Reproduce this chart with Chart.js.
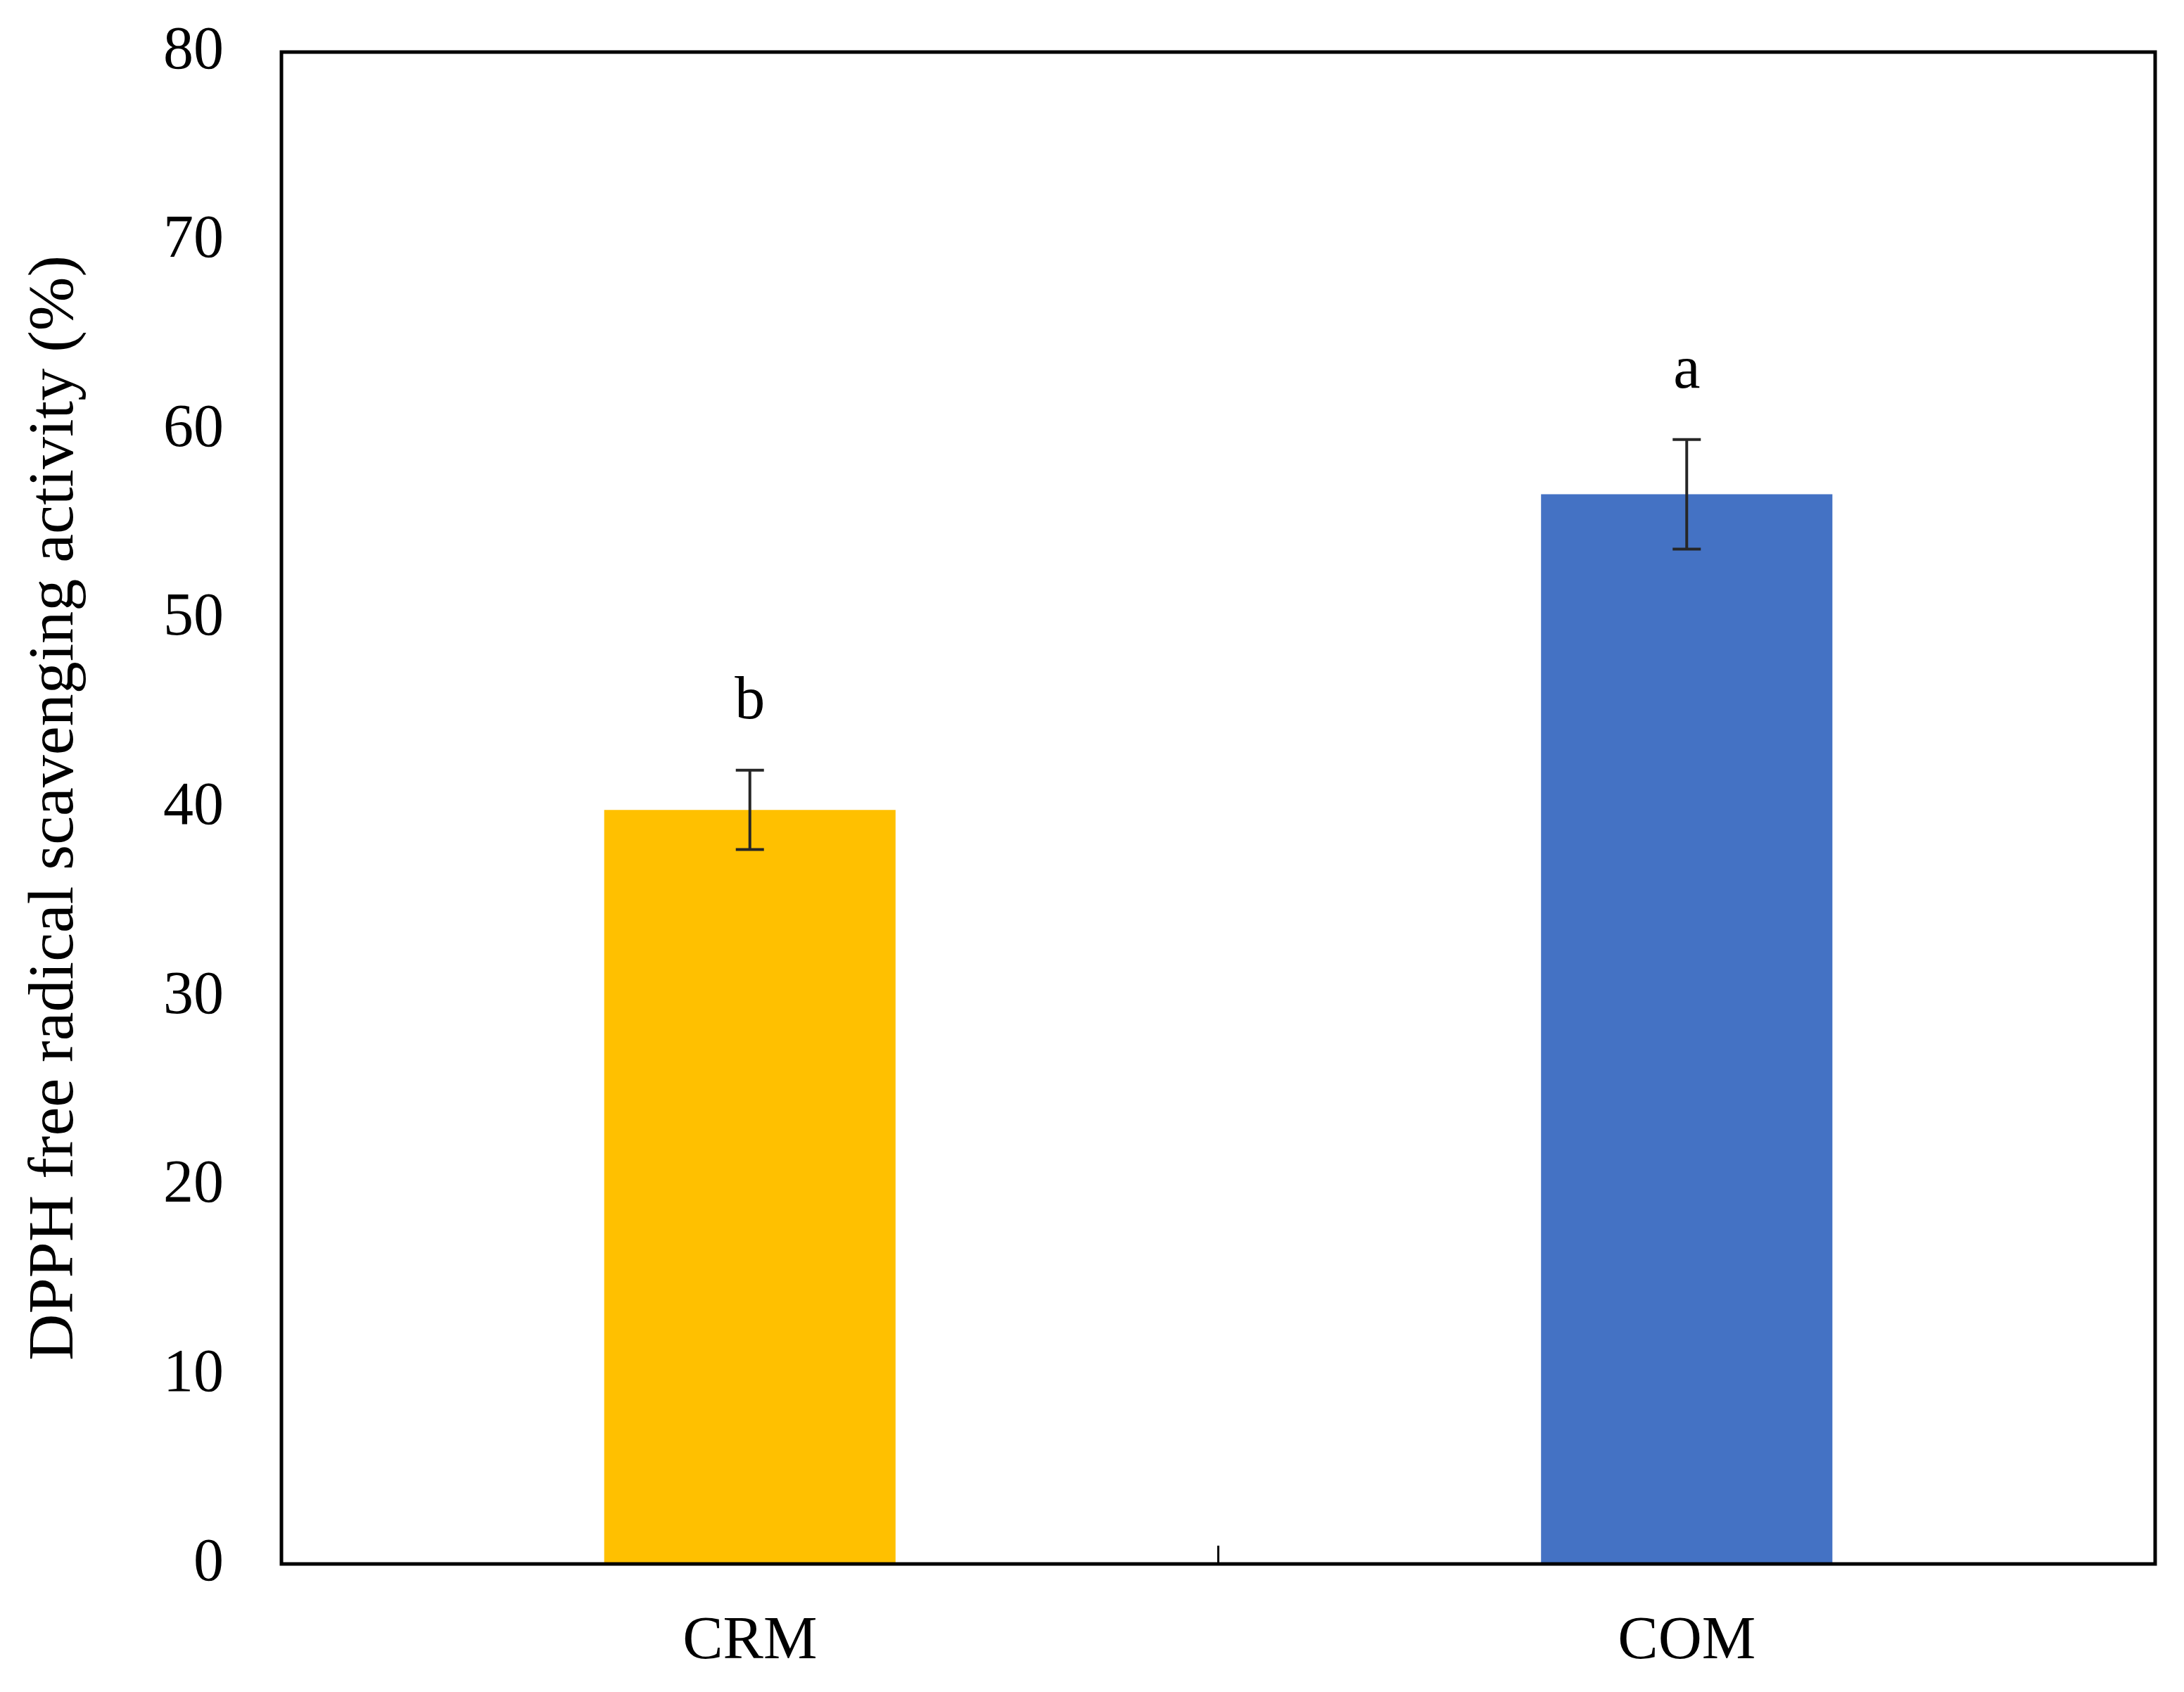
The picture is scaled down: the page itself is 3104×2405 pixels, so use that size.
<!DOCTYPE html>
<html>
<head>
<meta charset="utf-8">
<script src="https://cdn.jsdelivr.net/npm/chart.js@4/dist/chart.umd.min.js"></script>
<style>
  html, body { margin: 0; padding: 0; background: #ffffff; }
  #wrap { width: 3104px; height: 2405px; }
</style>
</head>
<body>
<div id="wrap"><canvas id="c" width="3104" height="2405"></canvas></div>
<script>
const categories = ["CRM", "COM"];
const meanValues = [39.9, 56.6];
const errorValues = [2.1, 2.9];
const sigLetters = ["b", "a"];
const barColors = ["#FFC000", "#4472C4"];
const yTickValues = [0, 10, 20, 30, 40, 50, 60, 70, 80];
const yTitle = "DPPH free radical scavenging activity (%)";

const FONT = "'Liberation Serif', 'Times New Roman', serif";

const decorPlugin = {
  id: 'decor',
  afterDatasetsDraw(chart) {
    const ctx = chart.ctx;
    const x = chart.scales.x, y = chart.scales.y;
    const meta = chart.getDatasetMeta(0);
    ctx.save();
    ctx.strokeStyle = '#262626';
    ctx.lineWidth = 4;
    meta.data.forEach((bar, i) => {
      const cx = x.getPixelForValue(i);
      const top = y.getPixelForValue(meanValues[i] + errorValues[i]);
      const bot = y.getPixelForValue(meanValues[i] - errorValues[i]);
      const cap = 20;
      ctx.beginPath();
      ctx.moveTo(cx, top); ctx.lineTo(cx, bot);
      ctx.moveTo(cx - cap, top); ctx.lineTo(cx + cap, top);
      ctx.moveTo(cx - cap, bot); ctx.lineTo(cx + cap, bot);
      ctx.stroke();
      ctx.fillStyle = '#000000';
      ctx.font = '86px ' + FONT;
      ctx.textAlign = 'center';
      ctx.textBaseline = 'alphabetic';
      ctx.fillText(sigLetters[i], cx, top - 74);
    });
    const a = chart.chartArea;
    ctx.strokeStyle = '#000000';
    ctx.lineWidth = 5;
    ctx.strokeRect(a.left, a.top, a.right - a.left, a.bottom - a.top);
    ctx.lineWidth = 3;
    const mid = (x.getPixelForValue(0) + x.getPixelForValue(1)) / 2;
    ctx.beginPath();
    ctx.moveTo(mid, a.bottom);
    ctx.lineTo(mid, a.bottom - 26);
    ctx.stroke();
    ctx.restore();
  }
};

new Chart(document.getElementById('c'), {
  type: 'bar',
  data: {
    labels: categories,
    datasets: [{
      data: meanValues,
      backgroundColor: barColors,
      borderWidth: 0,
      barPercentage: 0.311,
      categoryPercentage: 1.0
    }]
  },
  options: {
    responsive: false,
    animation: false,
    devicePixelRatio: 1,
    layout: { padding: { top: 74, right: 41, bottom: 0, left: 0 } },
    plugins: { legend: { display: false }, tooltip: { enabled: false } },
    scales: {
      x: {
        grid: { display: false, drawTicks: false },
        border: { display: false },
        ticks: { color: '#000000', font: { family: FONT, size: 86 }, padding: 60 },
        afterFit(s) { s.height = 182; s.paddingLeft = 0; s.paddingRight = 0; }
      },
      y: {
        min: 0, max: 80,
        afterBuildTicks(s) { s.ticks = yTickValues.map(v => ({ value: v })); },
        grid: { display: false, drawTicks: false },
        border: { display: false },
        ticks: { color: '#000000', font: { family: FONT, size: 86 }, padding: 82 },
        title: {
          display: true,
          text: yTitle,
          color: '#000000',
          font: { family: FONT, size: 92 },
          padding: { top: 24, bottom: 0 }
        },
        afterFit(s) { s.width = 400; s.paddingTop = 0; s.paddingBottom = 0; }
      }
    }
  },
  plugins: [decorPlugin]
});
</script>
</body>
</html>
